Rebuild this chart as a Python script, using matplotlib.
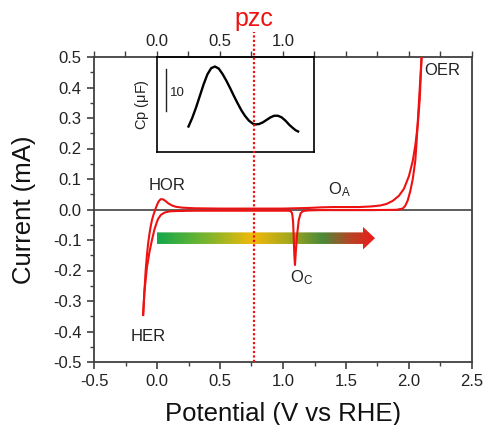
import numpy as np
import matplotlib
matplotlib.use("Agg")
import matplotlib.pyplot as plt
from matplotlib.patches import FancyArrow
from matplotlib.colors import LinearSegmentedColormap
from matplotlib.ticker import MultipleLocator

plt.rcParams['font.family'] = ['Liberation Sans', 'DejaVu Sans']
plt.rcParams['mathtext.fontset'] = 'custom'
plt.rcParams['mathtext.rm'] = 'Liberation Sans'
plt.rcParams['mathtext.it'] = 'Liberation Sans'

# ---- data: anodic scan (E in V vs RHE, I in mA) ----
E_fwd = [-0.11, -0.10, -0.09, -0.08, -0.07, -0.06, -0.05, -0.04, -0.03, -0.02, -0.01, 0.00,
         0.01, 0.02, 0.03, 0.05, 0.07, 0.09, 0.12, 0.15, 0.20, 0.30, 0.50, 0.80, 1.00, 1.20,
         1.30, 1.40, 1.50, 1.60, 1.70, 1.77, 1.82, 1.87, 1.92, 1.96, 2.00, 2.03, 2.05, 2.07,
         2.085, 2.10]
I_fwd = [-0.346, -0.27, -0.20, -0.15, -0.11, -0.08, -0.055, -0.035, -0.02, -0.008, 0.004, 0.015,
         0.024, 0.030, 0.034, 0.033, 0.027, 0.020, 0.013, 0.009, 0.006, 0.004, 0.003, 0.003, 0.003,
         0.005, 0.007, 0.008, 0.008, 0.008, 0.010, 0.013, 0.018, 0.028, 0.045, 0.068, 0.11, 0.16,
         0.21, 0.28, 0.36, 0.50]
# ---- cathodic scan ----
E_rev = [2.10, 2.09, 2.08, 2.07, 2.06, 2.05, 2.03, 2.01, 1.99, 1.97, 1.95, 1.90, 1.70, 1.50,
         1.30, 1.20, 1.16, 1.14, 1.125, 1.11, 1.10, 1.095, 1.09, 1.085, 1.08, 1.075, 1.07, 1.06,
         1.05, 0.90, 0.70, 0.50, 0.30, 0.15, 0.10, 0.06, 0.03, 0.01, 0.00, -0.02, -0.04, -0.06,
         -0.08, -0.10, -0.11]
I_rev = [0.50, 0.43, 0.36, 0.29, 0.22, 0.16, 0.10, 0.06, 0.03, 0.012, 0.003, -0.001, -0.002,
         -0.002, -0.002, -0.003, -0.005, -0.012, -0.035, -0.09, -0.15, -0.182, -0.15, -0.09,
         -0.04, -0.02, -0.010, -0.006, -0.004, -0.004, -0.004, -0.004, -0.004, -0.005, -0.006,
         -0.010, -0.018, -0.030, -0.040, -0.065, -0.10, -0.14, -0.19, -0.27, -0.346]

# ---- inset: capacitance vs potential ----
E_cp = [0.25, 0.28, 0.31, 0.34, 0.37, 0.40, 0.43, 0.46, 0.49, 0.52, 0.55, 0.58, 0.61, 0.64,
        0.67, 0.70, 0.73, 0.76, 0.78, 0.81, 0.84, 0.87, 0.90, 0.93, 0.96, 0.99, 1.02, 1.05,
        1.08, 1.10, 1.12]
Cp = [6.2, 8.3, 10.8, 13.6, 16.4, 18.8, 20.3, 20.7, 20.2, 18.9, 17.3, 15.5, 13.6, 11.8,
      10.1, 8.7, 7.6, 6.9, 6.7, 6.8, 7.2, 7.8, 8.4, 8.8, 8.8, 8.4, 7.6, 6.6, 5.8, 5.3, 5.0]

pzc = 0.77
x_ticks = [-0.5, 0.0, 0.5, 1.0, 1.5, 2.0, 2.5]
y_ticks = [-0.5, -0.4, -0.3, -0.2, -0.1, 0.0, 0.1, 0.2, 0.3, 0.4, 0.5]
top_ticks = [0.0, 0.5, 1.0]

fig = plt.figure(figsize=(4.91, 4.25), dpi=100)
ax = fig.add_axes([94/491, 1-362/425, (472-94)/491, (362-57)/425])

spine_c = '#404040'
for s in ax.spines.values():
    s.set_linewidth(1.3)
    s.set_color(spine_c)

ax.set_xlim(-0.5, 2.5)
ax.set_ylim(-0.5, 0.5)
ax.set_xticks(x_ticks)
ax.set_yticks(y_ticks)
ax.set_xticklabels([f"{v:.1f}" for v in x_ticks])
ax.set_yticklabels([f"{v:.1f}" for v in y_ticks])
ax.xaxis.set_minor_locator(MultipleLocator(0.25))
ax.yaxis.set_minor_locator(MultipleLocator(0.05))
ax.tick_params(which='major', direction='out', length=5, width=1.2, color=spine_c,
               labelsize=12, labelcolor='#222222', pad=4)
ax.tick_params(which='minor', direction='out', length=3, width=1.0, color=spine_c)
ax.tick_params(top=False, right=False)

sec = ax.secondary_xaxis('top')
sec.set_xticks(top_ticks)
sec.set_xticklabels([f"{v:.1f}" for v in top_ticks])
sec.xaxis.set_minor_locator(MultipleLocator(0.25))
sec.tick_params(which='both', direction='out', length=4, width=1.0, color=spine_c,
                labelsize=12, labelcolor='#222222', pad=2)
sec.spines['top'].set_visible(False)

ax.axhline(0, color='#505050', lw=1.3, zorder=1)

ax.plot(E_fwd, I_fwd, color='#ee1111', lw=1.5, zorder=3)
ax.plot(E_rev, I_rev, color='#ee1111', lw=1.5, zorder=3)

# gradient arrow
arrow = FancyArrow(0.0, -0.094, 1.73, 0.0, width=0.038, head_width=0.074,
                   head_length=0.095, length_includes_head=True,
                   facecolor='none', edgecolor='none', transform=ax.transData)
ax.add_patch(arrow)
cmap = LinearSegmentedColormap.from_list('arr', [
    (0.0, '#14a84c'), (0.2, '#6cb431'), (0.44, '#f2b90a'), (0.6, '#a8a81c'),
    (0.76, '#4a8a38'), (0.88, '#b04826'), (1.0, '#ee1a1a')])
grad = np.linspace(0, 1, 256).reshape(1, -1)
im = ax.imshow(grad, extent=[0.0, 1.73, -0.14, -0.05], aspect='auto', cmap=cmap,
               zorder=2, interpolation='bilinear')
im.set_clip_path(arrow)
ax.set_xlim(-0.5, 2.5)
ax.set_ylim(-0.5, 0.5)

# pzc line
ax.plot([pzc, pzc], [-0.5, 0.582], color='#ee1111', lw=1.6, ls=(0, (1, 1)),
        clip_on=False, zorder=6)
ax.text(0.766, 0.602, 'pzc', color='#ee1111', fontsize=18, ha='center', va='baseline',
        transform=ax.transData, clip_on=False)

# annotations
tkw = dict(fontsize=12, color='#222222', ha='center', va='center')
ax.text(0.08, 0.08, 'HOR', **tkw)
ax.text(-0.07, -0.418, 'HER', **tkw)
ax.text(1.45, 0.065, r'$\mathrm{O_A}$', **tkw)
ax.text(1.15, -0.222, r'$\mathrm{O_C}$', **tkw)
ax.text(2.26, 0.455, 'OER', **tkw)

ax.set_xlabel('Potential (V vs RHE)', fontsize=18.5, color='#111111', labelpad=9)
ax.set_ylabel('Current (mA)', fontsize=18.5, color='#111111', labelpad=12)

# inset
ins = ax.inset_axes([0.0, 0.188, 1.25, 0.312], transform=ax.transData)
ins.set_xlim(0.0, 1.25)
ins.set_ylim(0, 23)
ins.plot(E_cp, Cp, color='black', lw=1.7)
ins.plot([0.07, 0.07], [10, 20], color='#222222', lw=1.0)
ins.text(0.1, 14.3, '10', fontsize=9.5, color='#222222', ha='left', va='center')
ins.set_xticks([])
ins.set_yticks([])
for s in ins.spines.values():
    s.set_linewidth(1.2)
    s.set_color('black')
ins.set_ylabel(r'Cp ($\mathrm{\mu}$F)', fontsize=10.5, color='#222222', labelpad=4)
ins.patch.set_alpha(0)

fig.savefig('out.png', dpi=100)
